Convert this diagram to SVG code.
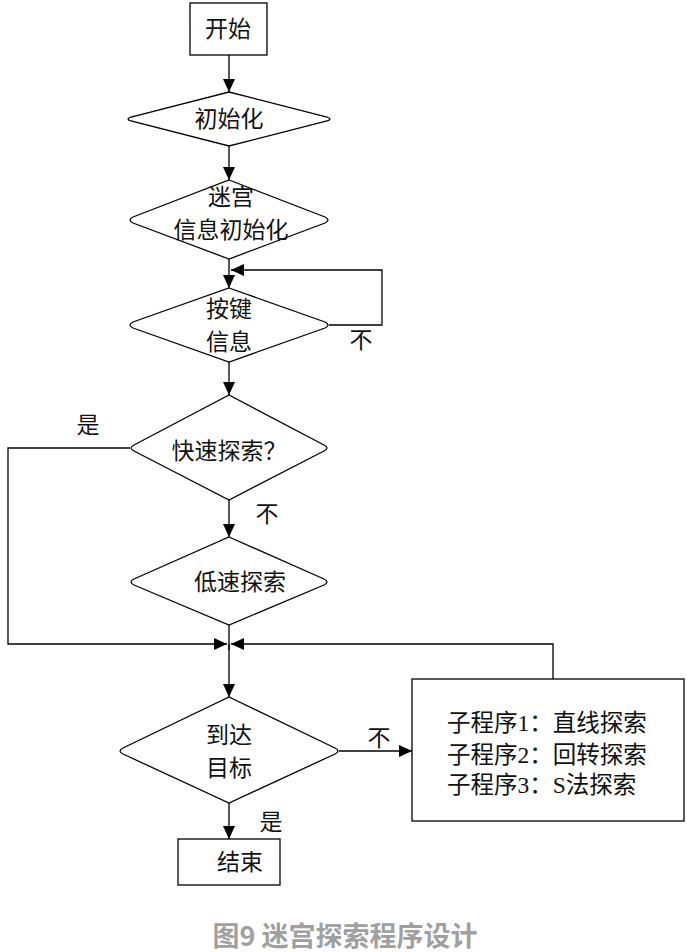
<svg xmlns="http://www.w3.org/2000/svg" width="687" height="952" viewBox="0 0 687 952">
<defs>
<marker id="ah" markerUnits="userSpaceOnUse" markerWidth="13" markerHeight="12" viewBox="0 0 13 12" refX="13" refY="6" orient="auto">
<path d="M0,0 L13,6 L0,12 z" fill="#000"/>
</marker>
</defs>
<style>
.shape{fill:#fff;stroke:#000;stroke-width:1.3}
.t{font-family:"Liberation Serif","Noto Sans CJK SC",serif;font-size:23px;fill:#111;text-anchor:middle;dominant-baseline:central}
.tl{font-family:"Liberation Serif","Noto Sans CJK SC",serif;font-size:23.5px;fill:#111;dominant-baseline:central}
.c{fill:none;stroke:#000;stroke-width:1.3;marker-end:url(#ah)}
.cn{fill:none;stroke:#000;stroke-width:1.3}
.cap{font-family:"Noto Sans CJK SC","Noto Sans",sans-serif;font-size:27px;font-weight:bold;fill:#a0a0a0;text-anchor:middle;dominant-baseline:central}
</style>
<rect width="687" height="952" fill="#fff"/>
<g id="connectors">
<path class="c" d="M229,55 V92"/>
<path class="c" d="M229,146 V180"/>
<path class="c" d="M229,259 V288"/>
<path class="c" d="M329,325 H382 V270 H231"/>
<path class="c" d="M229,362 V395"/>
<path class="c" d="M130,448 H8 V644 H227"/>
<path class="c" d="M229,500 V537"/>
<path class="cn" d="M229,625 V650"/>
<path class="c" d="M229,644 V697"/>
<path class="c" d="M339,751 H412"/>
<path class="c" d="M553,679 V644 H231"/>
<path class="c" d="M229,803 V839"/>
</g>
<g id="start">
<rect class="shape" x="190" y="3" width="77" height="52"/>
<text class="t" x="228" y="29">开始</text>
</g>
<g id="init">
<path class="shape" d="M229,92 L327,117 Q333,119 327,121 L229,146 L131,121 Q125,119 131,117 Z"/>
<text class="t" x="229" y="119">初始化</text>
</g>
<g id="maze-init">
<path class="shape" d="M229,180 L325,217 Q331,220 325,223 L229,259 L133,223 Q127,220 133,217 Z"/>
<text class="t" x="231" y="197">迷宫</text>
<text class="t" x="231" y="230">信息初始化</text>
</g>
<g id="key">
<path class="shape" d="M229,288 L325,322 Q331,325 325,328 L229,362 L133,328 Q127,325 133,322 Z"/>
<text class="t" x="229" y="309">按键</text>
<text class="t" x="229" y="342">信息</text>
<text class="t" x="361" y="340">不</text>
</g>
<g id="fast">
<path class="shape" d="M229,395 L324,445 Q330,448 324,451 L229,500 L134,451 Q128,448 134,445 Z"/>
<text class="t" x="229" y="451">快速探索？</text>
<text class="t" x="88" y="425">是</text>
<text class="t" x="267" y="514">不</text>
</g>
<g id="slow">
<path class="shape" d="M229,537 L324,579 Q330,582 324,585 L229,625 L134,585 Q128,582 134,579 Z"/>
<text class="t" x="240" y="582">低速探索</text>
</g>
<g id="reach">
<path class="shape" d="M229,697 L335,748 Q341,751 335,754 L229,803 L123,754 Q117,751 123,748 Z"/>
<text class="t" x="229" y="735">到达</text>
<text class="t" x="229" y="768">目标</text>
<text class="t" x="379" y="738">不</text>
<text class="t" x="271" y="822">是</text>
</g>
<g id="subs">
<rect class="shape" x="412" y="679" width="272" height="142"/>
<text class="tl" x="447" y="723">子程序1：直线探索</text>
<text class="tl" x="447" y="755">子程序2：回转探索</text>
<text class="tl" x="447" y="785">子程序3：S法探索</text>
</g>
<g id="end">
<rect class="shape" x="178" y="839" width="102" height="46"/>
<text class="t" x="240" y="862">结束</text>
</g>
<text class="cap" x="345" y="934">图9 迷宫探索程序设计</text>
</svg>
